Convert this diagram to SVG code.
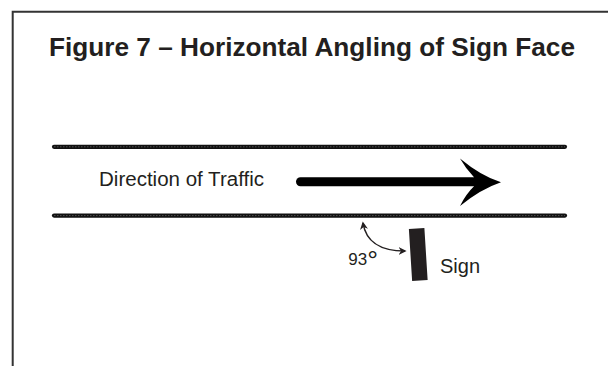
<svg xmlns="http://www.w3.org/2000/svg" width="608" height="366" viewBox="0 0 608 366">
  <style>
    .frame { stroke: #333333; stroke-width: 2; fill: none; }
    .title { font-family: "Liberation Sans", Arial, sans-serif; font-weight: bold; font-size: 26px; fill: #231f20; }
    .lbl { font-family: "Liberation Sans", Arial, sans-serif; fill: #231f20; }
    .road { stroke: #111111; stroke-width: 4.2; stroke-linecap: round; fill: none; }
    .roadtex { stroke: #ffffff; stroke-width: 0.6; stroke-dasharray: 1.5 1.5; opacity: 0.45; fill: none; }
    .conn { stroke: #231f20; stroke-width: 1.5; fill: none; }
  </style>
  <defs>
    <marker id="barb" viewBox="0 0 10 10" refX="8" refY="5" markerWidth="8" markerHeight="8" markerUnits="userSpaceOnUse" orient="auto-start-reverse">
      <path d="M0 0 L10 5 L0 10 L3 5 Z" fill="#231f20"/>
    </marker>
  </defs>

  <rect width="608" height="366" fill="#ffffff"/>

  <g id="frame">
    <path class="frame" d="M12.7 366 L12.7 11.7 L608 11.7"/>
  </g>

  <g id="title">
    <text class="title" x="49" y="56" textLength="526" lengthAdjust="spacingAndGlyphs">Figure 7 – Horizontal Angling of Sign Face</text>
  </g>

  <g id="road">
    <line class="road" x1="54" y1="146.8" x2="565" y2="146.8"/>
    <line class="roadtex" x1="54" y1="146.8" x2="565" y2="146.8"/>
    <line class="road" x1="54" y1="215.6" x2="565" y2="215.6"/>
    <line class="roadtex" x1="54" y1="215.6" x2="565" y2="215.6"/>
  </g>

  <g id="direction-label">
    <text class="lbl" x="99" y="186" font-size="19.5" textLength="165" lengthAdjust="spacingAndGlyphs">Direction of Traffic</text>
  </g>

  <g id="traffic-arrow">
    <line x1="300.5" y1="181.8" x2="474" y2="181.8" stroke="#000000" stroke-width="9" stroke-linecap="round"/>
    <path d="M501 182.3 Q481 176 460 158.5 Q466 169 474 177.3 L474 186.3 Q466 194 460 206 Q481 189 501 182.3 Z" fill="#000000"/>
  </g>

  <g id="sign">
    <rect x="410.5" y="228.5" width="15.5" height="52" fill="#231f20" transform="rotate(-3.6 418.2 254.5)"/>
  </g>

  <g id="sign-label">
    <text class="lbl" x="440" y="273.3" font-size="20">Sign</text>
  </g>

  <g id="angle-label">
    <text class="lbl" x="348.3" y="265" font-size="17">93<tspan font-size="27" dy="5">°</tspan></text>
  </g>

  <g id="connectors">
    <path class="conn" d="M363 223 C366 242 380 251 405 251" marker-start="url(#barb)" marker-end="url(#barb)"/>
  </g>
</svg>
